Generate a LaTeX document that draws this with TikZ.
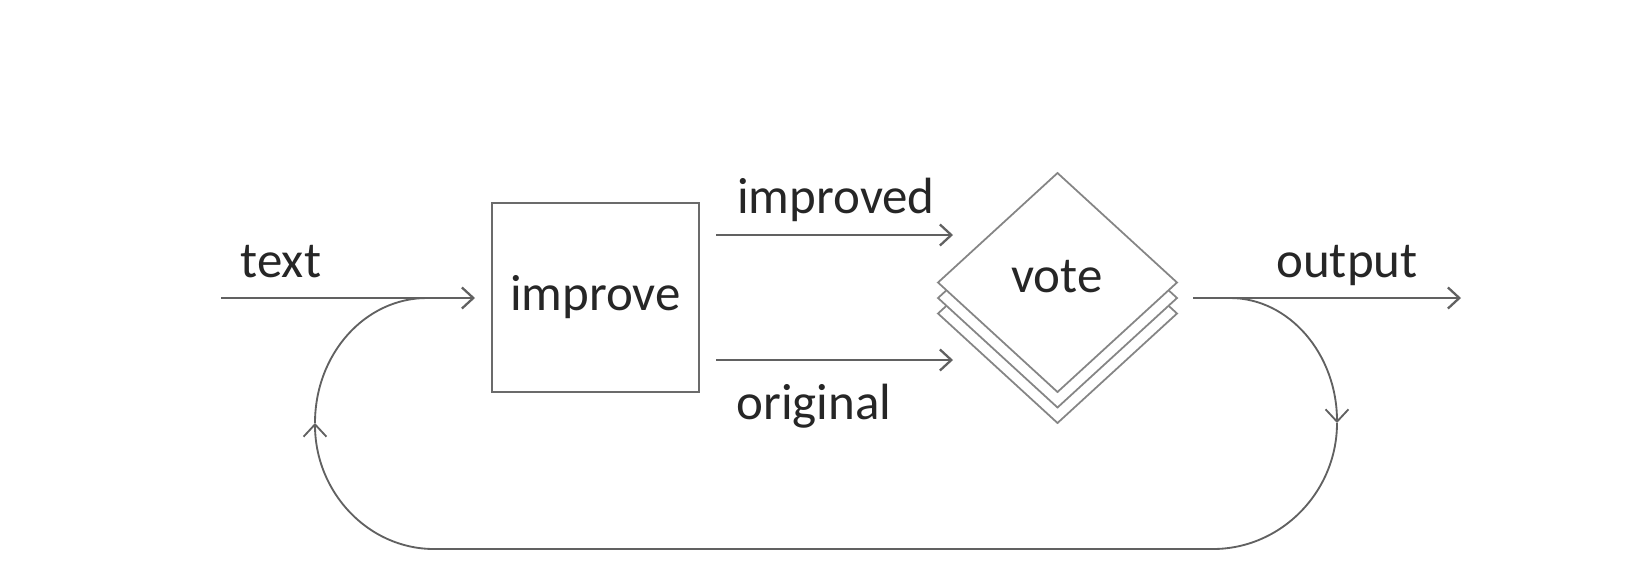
\documentclass[tikz,border=0pt]{standalone}
\usepackage{fontspec}
\setmainfont{Carlito}
\usetikzlibrary{arrows.meta}
\begin{document}
\begin{tikzpicture}[x=0.02cm,y=-0.02cm,
  lbl/.style={font=\fontsize{29}{34}\selectfont, text=black!85, inner sep=0pt, anchor=base},
  tip/.style={-{Straight Barb[length=6.5pt,width=12pt,line width=1.3pt]}},
  conn/.style={draw=black!62, line width=1.5pt, tip},
  loopline/.style={draw=black!62, line width=1.05pt},
  looparrow/.style={loopline, -{Straight Barb[length=7pt,width=13pt,line width=1.05pt]}},
  boxst/.style={draw=black!58, line width=1.1pt, minimum width=4.14cm, minimum height=3.78cm,
    inner sep=0pt, font=\fontsize{29}{34}\selectfont, text=black!85},
  diam/.style={draw=black!48, line width=1pt, fill=white}
]
\useasboundingbox (0,0) rectangle (1642,562);

% input
\coordinate (tin) at (221,298);
\coordinate (tout) at (475,298);
\draw[conn] (tin) -- (tout);
\node[lbl] (textlbl) at (281,277) {text};

% improve box
\node[boxst] (improve) at (595.5,297.5) {improve};

% improved / original arrows
\coordinate (ia) at (716,235);
\coordinate (ib) at (953,235);
\coordinate (oa) at (716,360);
\coordinate (ob) at (953,360);
\draw[conn] (ia) -- (ib);
\draw[conn] (oa) -- (ob);
\node[lbl] (improvedlbl) at (836,213) {improved};
\node[lbl] (originallbl) at (814,419) {original};

% vote stack
\foreach \d in {31,15.5,0}
  \draw[diam] (1057.5,173+\d) -- (1177,282.5+\d) -- (1057.5,392+\d) -- (938,282.5+\d) -- cycle;
\node[lbl] (vote) at (1057,292) {vote};

% output
\coordinate (outa) at (1193,298);
\coordinate (outb) at (1461,298);
\draw[conn] (outa) -- (outb);
\node[lbl] (outputlbl) at (1347,277) {output};

% feedback loop
\coordinate (ra) at (1230,298);
\coordinate (rm) at (1337,423);
\coordinate (rb) at (1213,549);
\coordinate (lb) at (434,549);
\coordinate (lm) at (315,423);
\coordinate (la) at (427,298);
\draw[looparrow] (ra) .. controls (1289,298) and (1337,354) .. (rm);
\draw[loopline] (rm) .. controls (1337,492) and (1281,549) .. (rb) -- (lb);
\draw[looparrow] (lb) .. controls (368,549) and (315,492) .. (lm);
\draw[loopline] (lm) .. controls (315,354) and (365,298) .. (la);
\end{tikzpicture}
\end{document}
